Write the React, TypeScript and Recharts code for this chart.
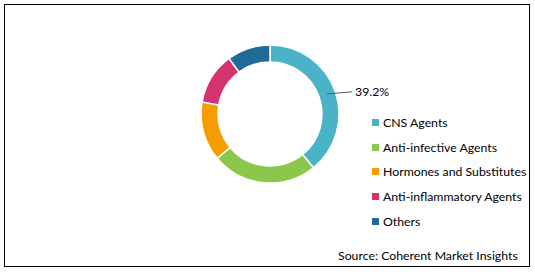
import React from "react";
import { PieChart, Pie, Cell } from "recharts";

const categories = [
  "CNS Agents",
  "Anti-infective Agents",
  "Hormones and Substitutes",
  "Anti-inflammatory Agents",
  "Others",
];
const shares = [39.2, 24.7, 13.9, 12.1, 10.1];
const colors = ["#4BB3C8", "#8AC74A", "#F59D00", "#D5336D", "#1F6A99"];
const labelled = [true, false, false, false, false];

const data = categories.map((name, i) => ({ name, value: shares[i] }));

const font = "Lato, 'Liberation Sans', sans-serif";

const renderLabel = (props: any) => {
  const { cx, cy, midAngle, innerRadius, outerRadius, index, value } = props;
  if (!labelled[index]) return null;
  const RAD = Math.PI / 180;
  const r = (innerRadius + outerRadius) / 2;
  const x1 = cx + r * Math.cos(-midAngle * RAD);
  const y1 = cy + r * Math.sin(-midAngle * RAD);
  const x2 = cx + outerRadius + 13;
  const y2 = y1 - 2;
  return (
    <g>
      <line x1={x1} y1={y1} x2={x2} y2={y2} stroke="#595959" strokeWidth={1} />
      <text x={x2 + 3} y={y2 + 4} fill="#000" fontSize={12.3} fontFamily={font}>
        {value.toFixed(1)}%
      </text>
    </g>
  );
};

export default function App() {
  return (
    <div style={{ position: "absolute", left: 0, top: 0, width: 535, height: 272, background: "#fff" }}>
      <div
        style={{
          position: "absolute",
          left: 4,
          top: 4,
          width: 524,
          height: 261,
          border: "1.5px solid #000",
        }}
      />
      <div style={{ position: "absolute", left: 0, top: 0 }}>
        <PieChart width={535} height={272} margin={{ top: 0, right: 0, bottom: 0, left: 0 }}>
          <Pie
            data={data}
            dataKey="value"
            nameKey="name"
            cx={270}
            cy={114}
            innerRadius={52}
            outerRadius={69}
            startAngle={90}
            endAngle={-270}
            stroke="#fff"
            strokeWidth={1.5}
            label={renderLabel}
            labelLine={false}
            isAnimationActive={false}
          >
            {data.map((_, i) => (
              <Cell key={i} fill={colors[i]} />
            ))}
          </Pie>
        </PieChart>
      </div>
      <div style={{ position: "absolute", left: 372, top: 110, fontFamily: font, fontSize: 12.3 }}>
        {categories.map((c, i) => (
          <div key={c} style={{ display: "flex", alignItems: "center", height: 24.8 }}>
            <span style={{ width: 7, height: 7, background: colors[i], marginRight: 4 }} />
            <span>{c}</span>
          </div>
        ))}
      </div>
      <div
        style={{
          position: "absolute",
          left: 338,
          top: 248,
          fontFamily: font,
          fontSize: 12.3,
          whiteSpace: "nowrap",
        }}
      >
        Source: Coherent Market Insights
      </div>
    </div>
  );
}
